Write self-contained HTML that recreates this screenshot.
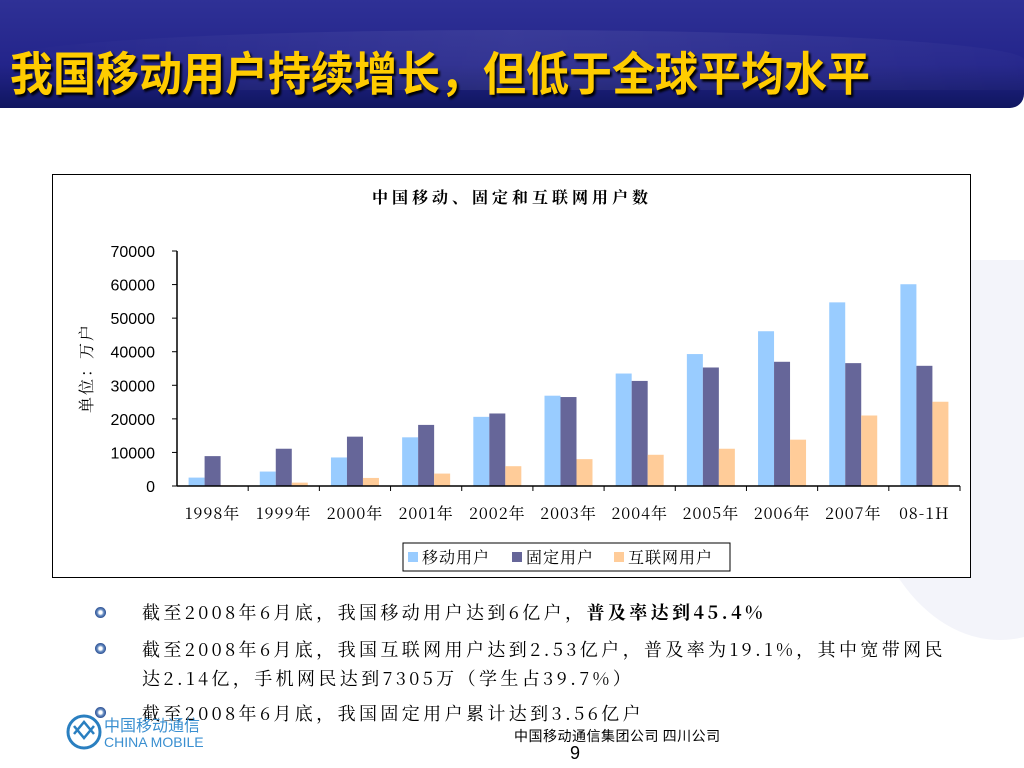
<!DOCTYPE html>
<html><head><meta charset="utf-8">
<style>
html,body{margin:0;padding:0;width:1024px;height:768px;overflow:hidden;background:#fff;font-family:"Liberation Sans","Noto Sans CJK SC",sans-serif;}
#header{position:absolute;left:0;top:0;width:1024px;height:108px;background:linear-gradient(#2f3196,#23248a 60%,#101660);border-bottom-right-radius:14px;}
#wave{position:absolute;left:0;top:30px;width:1024px;height:60px;background:linear-gradient(90deg,rgba(255,255,255,0),rgba(255,255,255,0.08),rgba(255,255,255,0.02));border-radius:50% 50% 0 0;}
#title{position:absolute;left:10px;top:42px;font-family:"Noto Sans CJK SC",sans-serif;font-weight:bold;font-size:43px;color:#ffcc00;text-shadow:2px 2px 2px #000;white-space:nowrap;line-height:54px;transform:scaleY(1.08);transform-origin:left top;}
#chart{position:absolute;left:52px;top:174px;width:917px;height:402px;border:1.5px solid #000;background:#fff;}
.bullets{position:absolute;font-family:"Noto Serif CJK SC",serif;font-size:18px;color:#000;letter-spacing:3.4px;}
.bul{position:absolute;width:11px;height:11px;border-radius:50%;background:radial-gradient(circle,#fff 20%,#6a8fc4 40%,#2b4f92 70%);}
</style></head><body>
<div id="header"><div id="wave"></div>
<div id="title">我国移动用户持续增长，但低于全球平均水平</div></div>
<svg style="position:absolute;left:700px;top:260px" width="324" height="400"><ellipse cx="300" cy="180" rx="140" ry="200" fill="#f3f4fa"/></svg>
<div id="chart"></div>
<svg id="svg" style="position:absolute;left:0;top:0" width="1024" height="768"></svg>
<div class="bul" style="left:95px;top:607px"></div>
<div class="bul" style="left:95px;top:643px"></div>
<div class="bul" style="left:95px;top:707px"></div>
<div class="bullets" style="left:142px;top:599px;white-space:nowrap">截至2008年6月底，我国移动用户达到6亿户，<b>普及率达到45.4%</b></div>
<div class="bullets" style="left:142px;top:635px;width:850px;line-height:29px;white-space:nowrap">截至2008年6月底，我国互联网用户达到2.53亿户，普及率为19.1%，其中宽带网民<br>达2.14亿，手机网民达到7305万（学生占39.7%）</div>
<div class="bullets" style="left:142px;top:700px;white-space:nowrap">截至2008年6月底，我国固定用户累计达到3.56亿户</div>
<svg style="position:absolute;left:66px;top:712px" width="140" height="40">
<circle cx="18" cy="20" r="16" fill="none" stroke="#2a7fc0" stroke-width="3"/><path d="M8 14 L18 26 L28 14 M8 22 L18 10 L28 22" fill="none" stroke="#2a7fc0" stroke-width="2.5"/>
<text x="38" y="19" font-size="16" fill="#3a8fd0" font-family="Noto Sans CJK SC,sans-serif">中国移动通信</text>
<text x="38" y="35" font-size="14" fill="#3a8fd0" font-family="Liberation Sans,sans-serif">CHINA MOBILE</text></svg>
<div style="position:absolute;left:514px;top:726px;font-size:14px;font-family:'Noto Sans CJK SC',sans-serif;letter-spacing:0.5px">中国移动通信集团公司 四川公司</div>
<div style="position:absolute;left:570px;top:743px;font-size:18px">9</div>
<script>
const categories=["1998年","1999年","2000年","2001年","2002年","2003年","2004年","2005年","2006年","2007年","08-1H"];
const mobile=[2500,4300,8500,14500,20600,26900,33500,39300,46100,54700,60100];
const fixed=[8900,11100,14700,18200,21600,26500,31300,35300,37000,36600,35800];
const internet=[200,1000,2400,3700,5900,8000,9300,11100,13800,21000,25100];
const yTicks=[0,10000,20000,30000,40000,50000,60000,70000];
const seriesNames=["移动用户","固定用户","互联网用户"];
const colors=["#99ccff","#666699","#ffcc99"];
const svg=document.getElementById('svg');const NS="http://www.w3.org/2000/svg";
const x0=177,x1=960,y0=486,yTop=251,yMax=70000;
const bw=(x1-x0)/categories.length;
const yS=v=>y0-(v/yMax)*(y0-yTop);
function mk(t,a,txt){const e=document.createElementNS(NS,t);for(const k in a)e.setAttribute(k,a[k]);if(txt!=null)e.textContent=txt;svg.appendChild(e);return e;}
let e=mk('text',{x:512,y:203,'text-anchor':'middle','font-size':16,'letter-spacing':4,'font-family':'Noto Serif CJK SC,serif','font-weight':'bold'},'中国移动、固定和互联网用户数');


e=mk('text',{x:0,y:0,'text-anchor':'middle','font-size':16,'letter-spacing':2,'font-family':'Noto Serif CJK SC,serif',transform:'translate(92,368) rotate(-90)'},'单位：万户');


yTicks.forEach(v=>{const y=yS(v);
 e=mk('line',{x1:x0-5,x2:x0,y1:y,y2:y,stroke:'#000'});
 
 
 e=mk('text',{x:155,y:y+6,'text-anchor':'end','font-size':16,'font-family':'Liberation Sans,sans-serif'},String(v));
 
 });
const series=[mobile,fixed,internet];
categories.forEach((c,i)=>{const gx=x0+i*bw;const w=16,off=(bw-3*w)/2;
 series.forEach((s,j)=>{const y=yS(s[i]);
  e=mk('rect',{x:gx+off+j*w,y:y,width:w,height:y0-y,fill:colors[j]});
  
  });
 e=mk('line',{x1:gx+bw,x2:gx+bw,y1:y0,y2:y0+5,stroke:'#000'});
 
 
 e=mk('text',{x:gx+bw/2,y:519,'text-anchor':'middle','font-size':16,'letter-spacing':1,'font-family':'Noto Serif CJK SC,serif'},c);
 
 });
e=mk('line',{x1:x0,x2:x0,y1:yTop,y2:y0,stroke:'#000','stroke-width':1.5});


e=mk('line',{x1:x0,x2:x1,y1:y0,y2:y0,stroke:'#000','stroke-width':1.5});


e=mk('rect',{x:403,y:543,width:327,height:28,fill:'#fff',stroke:'#000'});


const lx=[408,512,614];
seriesNames.forEach((n,j)=>{e=mk('rect',{x:lx[j],y:552,width:10,height:10,fill:colors[j]});
 
 
 e=mk('text',{x:lx[j]+14,y:563,'font-size':16,'letter-spacing':1,'font-family':'Noto Serif CJK SC,serif'},n);
 
 });
</script>
</body></html>
